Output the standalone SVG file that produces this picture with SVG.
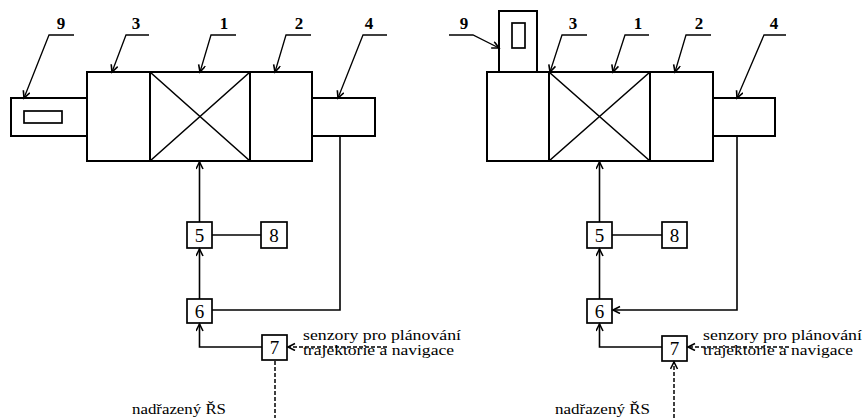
<svg xmlns="http://www.w3.org/2000/svg" width="864" height="418" viewBox="0 0 864 418" font-family="'Liberation Serif', 'Times New Roman', serif">
<defs>
<marker id="ah" markerWidth="10" markerHeight="10" refX="8" refY="4" orient="auto" markerUnits="userSpaceOnUse">
<path d="M1,0.5 L8,4 L1,7.5" fill="none" stroke="#000" stroke-width="1.6"/>
</marker>
<style>
.box{fill:#fff;stroke:#000;stroke-width:2}
.sb{fill:#fff;stroke:#000;stroke-width:1.7}
.ln{fill:none;stroke:#000;stroke-width:1.6}
.ld{fill:none;stroke:#000;stroke-width:1.3}
.ds{fill:none;stroke:#000;stroke-width:1.5;stroke-dasharray:4 2}
.num{font-family:'Liberation Serif','Times New Roman',serif;font-size:19px;text-anchor:middle}
.lab{font-family:'Liberation Serif','Times New Roman',serif;font-size:17px;font-weight:bold;text-anchor:middle}
.txt{font-family:'Liberation Serif','Times New Roman',serif;font-size:15px}
</style>
</defs>

<!-- LEFT DIAGRAM -->
<g id="L-node9"><rect class="box" x="11" y="98" width="76" height="38"/><rect class="sb" x="24" y="111" width="38" height="12"/></g>
<g id="L-node3"><rect class="box" x="87" y="72" width="63" height="89"/></g>
<g id="L-node1"><rect class="box" x="150" y="72" width="100" height="89"/><path class="ln" d="M150,72 L250,161 M250,72 L150,161"/></g>
<g id="L-node2"><rect class="box" x="250" y="72" width="62" height="89"/></g>
<g id="L-node4"><rect class="box" x="312" y="98" width="63" height="38"/></g>
<g id="L-node5"><rect class="sb" x="187" y="222" width="25" height="26"/><text class="num" x="199.5" y="242">5</text></g>
<g id="L-node8"><rect class="sb" x="261" y="222" width="26" height="26"/><text class="num" x="274" y="242">8</text></g>
<g id="L-node6"><rect class="sb" x="187" y="299" width="25" height="24"/><text class="num" x="199.5" y="318">6</text></g>
<g id="L-node7"><rect class="sb" x="262" y="335" width="25" height="25"/><text class="num" x="274.5" y="354">7</text></g>
<g id="L-labels">
<text class="lab" x="61" y="29">9</text>
<text class="lab" x="136" y="29">3</text>
<text class="lab" x="224" y="29">1</text>
<text class="lab" x="299" y="29">2</text>
<text class="lab" x="369" y="29">4</text>
<text class="txt" x="303" y="340" textLength="158" lengthAdjust="spacingAndGlyphs">senzory  pro plánování</text>
<text class="txt" x="303" y="355" textLength="151" lengthAdjust="spacingAndGlyphs">trajektorie a navigace</text>
<text class="txt" x="132" y="414" textLength="94" lengthAdjust="spacingAndGlyphs">nadřazený ŘS</text>
</g>

<!-- RIGHT DIAGRAM -->
<g id="R-node9"><rect class="box" x="499" y="11" width="38" height="61"/><rect class="sb" x="512" y="23" width="13" height="25"/></g>
<g id="R-node3"><rect class="box" x="487" y="72" width="62" height="89"/></g>
<g id="R-node1"><rect class="box" x="549" y="72" width="101" height="89"/><path class="ln" d="M549,72 L650,161 M650,72 L549,161"/></g>
<g id="R-node2"><rect class="box" x="650" y="72" width="63" height="89"/></g>
<g id="R-node4"><rect class="box" x="713" y="98" width="62" height="38"/></g>
<g id="R-node5"><rect class="sb" x="587" y="222" width="25" height="26"/><text class="num" x="599.5" y="242">5</text></g>
<g id="R-node8"><rect class="sb" x="662" y="222" width="25" height="26"/><text class="num" x="674.5" y="242">8</text></g>
<g id="R-node6"><rect class="sb" x="587" y="299" width="25" height="24"/><text class="num" x="599.5" y="318">6</text></g>
<g id="R-node7"><rect class="sb" x="662" y="336" width="25" height="25"/><text class="num" x="674.5" y="355">7</text></g>
<g id="R-labels">
<text class="lab" x="464" y="29">9</text>
<text class="lab" x="573" y="29">3</text>
<text class="lab" x="638" y="29">1</text>
<text class="lab" x="699" y="29">2</text>
<text class="lab" x="774" y="29">4</text>
<text class="txt" x="703" y="340" textLength="159" lengthAdjust="spacingAndGlyphs">senzory  pro plánování</text>
<text class="txt" x="703" y="355" textLength="150" lengthAdjust="spacingAndGlyphs">trajektorie a navigace</text>
<text class="txt" x="555" y="414" textLength="95" lengthAdjust="spacingAndGlyphs">nadřazený ŘS</text>
</g>

<g id="connectors">
<!-- left leaders -->
<path class="ld" d="M74,35 L49,35 L24,98" marker-end="url(#ah)"/>
<path class="ld" d="M149,35 L126,35 L112,72" marker-end="url(#ah)"/>
<path class="ld" d="M236,35 L211,35 L200,72" marker-end="url(#ah)"/>
<path class="ld" d="M311,35 L286,35 L275,72" marker-end="url(#ah)"/>
<path class="ld" d="M387,35 L363,35 L338,98" marker-end="url(#ah)"/>
<!-- left signal lines -->
<path class="ln" d="M199.5,222 L199.5,162" marker-end="url(#ah)"/>
<path class="ln" d="M212,235 L261,235"/>
<path class="ln" d="M199.5,299 L199.5,249" marker-end="url(#ah)"/>
<path class="ln" d="M340,136 L340,310 L212,310"/>
<path class="ln" d="M262,347 L199.5,347 L199.5,324" marker-end="url(#ah)"/>
<path class="ds" d="M387,347 L288,347" marker-end="url(#ah)"/>
<path class="ds" d="M275,361 L275,418"/>
<!-- right leaders -->
<path class="ld" d="M449,35 L473,35 L499,48" marker-end="url(#ah)"/>
<path class="ld" d="M587,35 L562,35 L550,72" marker-end="url(#ah)"/>
<path class="ld" d="M649,35 L625,35 L613,72" marker-end="url(#ah)"/>
<path class="ld" d="M711,35 L686,35 L675,72" marker-end="url(#ah)"/>
<path class="ld" d="M786,35 L764,35 L737,98" marker-end="url(#ah)"/>
<!-- right signal lines -->
<path class="ln" d="M599.5,222 L599.5,162" marker-end="url(#ah)"/>
<path class="ln" d="M612,235 L662,235"/>
<path class="ln" d="M599.5,299 L599.5,249" marker-end="url(#ah)"/>
<path class="ln" d="M737,136 L737,310 L613,310" marker-end="url(#ah)"/>
<path class="ln" d="M662,347 L599.5,347 L599.5,324" marker-end="url(#ah)"/>
<path class="ds" d="M789,347 L688,347" marker-end="url(#ah)"/>
<path class="ds" d="M674,418 L674,362" marker-end="url(#ah)"/>
</g>
</svg>
